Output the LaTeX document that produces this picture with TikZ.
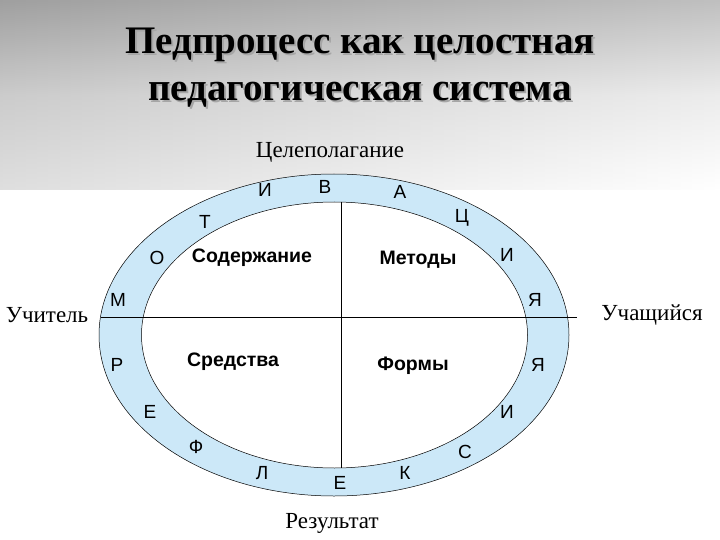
\documentclass[tikz,border=0pt]{standalone}
\usepackage{fontspec}
\setmainfont{Liberation Serif}
\newfontfamily\lsans{Liberation Sans}
\usetikzlibrary{shadings}
\definecolor{ring}{RGB}{204,232,248}
\begin{document}
\begin{tikzpicture}[x=1pt,y=-1pt,
  rl/.style={font=\lsans\fontsize{19}{21}\selectfont},
  ql/.style={font=\lsans\bfseries\fontsize{19.5}{22}\selectfont},
  sl/.style={font=\fontsize{23}{26}\selectfont},
  tl/.style={font=\bfseries\fontsize{39}{44}\selectfont}]
\useasboundingbox (0,0) rectangle (720,540);
\shade[top color=black!50,bottom color=white,middle color=black!15] (0,0) rectangle (720,190);
\shade[left color=black!25,right color=white,opacity=0.5] (0,0) rectangle (720,190);
\fill[ring,draw=black,line width=0.5pt] (334,335) ellipse [x radius=235,y radius=161];
\fill[white,draw=black,line width=0.5pt] (334.5,335) ellipse [x radius=193,y radius=133];
\coordinate (hl) at (101,317); \coordinate (hr) at (577,317);
\coordinate (vt) at (341,202); \coordinate (vb) at (341,468);
\draw[line width=0.6pt] (hl) -- (hr);
\draw[line width=0.6pt] (vt) -- (vb);
\foreach \t/\x/\y [count=\i] in {И/265/190,В/325/187,А/400/192,Ц/462/218,И/507/255,Я/535/300,Я/538/365,И/507/412,С/465/452,К/405/473,Е/340/483,Л/262/473,Ф/196/447,Е/150/412,Р/117/365,М/118/300,О/157/258,Т/205/222}
  \node[rl] (r\i) at (\x,\y) {\t};
\node[ql] (q1) at (252,258) {Содержание};
\node[ql] (q2) at (418,260) {Методы};
\node[ql] (q3) at (233,362) {Средства};
\node[ql] (q4) at (413,366) {Формы};
\node[sl] (s1) at (330,152) {Целеполагание};
\node[sl] (s2) at (47,315) {Учитель};
\node[sl] (s3) at (652,315) {Учащийся};
\node[sl] (s4) at (332,523) {Результат};
\node[tl,text=black!35] at (362,47) {Педпроцесс как целостная};
\node[tl,text=black!35] at (362,97) {педагогическая система};
\node[tl] (t1) at (360,45) {Педпроцесс как целостная};
\node[tl] (t2) at (360,95) {педагогическая система};
\end{tikzpicture}
\end{document}
